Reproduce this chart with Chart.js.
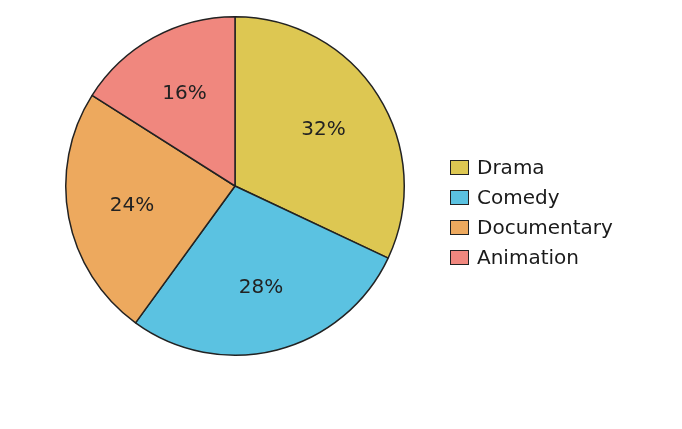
<!DOCTYPE html>
<html>
<head>
<meta charset="utf-8">
<script src="https://cdn.jsdelivr.net/npm/chart.js@4"></script>
<style>
  body { margin: 0; background: #fff; }
  #wrap { position: relative; width: 682px; height: 429px; }
  #legend { position: absolute; left: 450px; top: 152px; font: 20px "DejaVu Sans", sans-serif; color: #1a1a1a; }
  .item { height: 30px; line-height: 30px; white-space: nowrap; }
  .box { display: inline-block; width: 17px; height: 13px; border: 1px solid #222; vertical-align: middle; margin-right: 8px; position: relative; top: -1px; }
</style>
</head>
<body>
<div id="wrap">
  <canvas id="pieChart" width="682" height="429"></canvas>
  <div id="legend"></div>
</div>
<script>
// dados
const genres = ['Drama', 'Comedy', 'Documentary', 'Animation'];
const shares = [32, 28, 24, 16];
const colors = ['#DDC752', '#5BC2E1', '#EDA95E', '#F0877E'];

// labels de porcentagem dentro das fatias
const pctLabels = {
    id: 'pctLabels',
    afterDatasetsDraw(chart) {
        const ctx = chart.ctx;
        const meta = chart.getDatasetMeta(0);
        ctx.save();
        ctx.font = '20px "DejaVu Sans", sans-serif';
        ctx.fillStyle = '#222';
        ctx.textAlign = 'center';
        ctx.textBaseline = 'middle';
        meta.data.forEach((arc, i) => {
            const mid = (arc.startAngle + arc.endAngle) / 2;
            const r = arc.outerRadius * 0.62;
            ctx.fillText(shares[i] + '%', arc.x + Math.cos(mid) * r, arc.y + Math.sin(mid) * r);
        });
        ctx.restore();
    }
};

const ctx = document.getElementById('pieChart').getContext('2d');
new Chart(ctx, {
    type: 'pie',
    data: {
        labels: genres,
        datasets: [
            {
                data: shares,
                backgroundColor: colors,
                borderColor: '#222',
                borderWidth: 1.5,
            },
        ],
    },
    options: {
        responsive: false,
        animation: false,
        layout: {
            padding: { left: 65, right: 277, top: 16, bottom: 73 },
        },
        plugins: {
            legend: { display: false },
            tooltip: { enabled: false },
        },
    },
    plugins: [pctLabels],
});

// legenda em html
const legend = document.getElementById('legend');
genres.forEach((g, i) => {
    const row = document.createElement('div');
    row.className = 'item';
    row.innerHTML = '<span class="box" style="background:' + colors[i] + '"></span>' + g;
    legend.appendChild(row);
});
</script>
</body>
</html>
